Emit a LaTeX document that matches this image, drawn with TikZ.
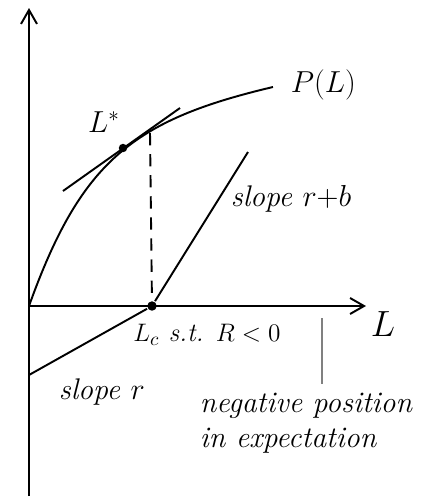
\documentclass[tikz,border=0pt]{standalone}
\usepackage{amsmath}
\usepackage{tikz}
\usetikzlibrary{arrows.meta, positioning}

\begin{document}
\begin{tikzpicture}[
      x=0.02cm, y=-0.02cm,
      line width=1.1pt,
      axis/.style={-{Straight Barb[length=2.8mm, width=3.2mm]}},
      label/.style={font=\fontsize{17}{20}\selectfont\itshape},
      dot/.style={circle, fill, inner sep=1.7pt}
    ]
      \useasboundingbox (0,0) rectangle (433,498);

      % axes
      \coordinate (origin) at (29,306);
      \coordinate (ytop) at (29,8);
      \coordinate (ybot) at (29,496);
      \coordinate (xend) at (366,306);
      \draw (ybot) -- (origin);
      \draw[axis] (origin) -- (ytop);
      \draw[axis] (origin) -- (xend);
      \node[label, font=\fontsize{22}{24}\selectfont] (xlab) at (383,324) {$L$};

      % profit curve
      \coordinate (pend) at (273,87);
      \draw (origin) .. controls (81,161) and (133,120) .. (pend);
      \node[label, anchor=west] (plab) at (284,85) {$P(L)$};

      % optimum and tangent
      \node[dot] (lstar) at (123,148) {};
      \node[label] (lstarlab) at (104,122) {$L^{*}$};
      \coordinate (tanA) at (63,191);
      \coordinate (tanB) at (180,108);
      \draw (tanA) -- (tanB);
      \coordinate (tanfoot) at (150,133);
      \node[dot, inner sep=1.9pt] (lc) at (152,306) {};
      \draw[dash pattern=on 7pt off 5pt] (tanfoot) -- (lc);

      % two slopes through L_c
      \coordinate (steep) at (248,152);
      \coordinate (yint) at (29,375);
      \draw (lc) -- (steep);
      \draw (yint) -- (lc);
      \node[label, anchor=west] (rblab) at (224,199) {slope $r{+}b$};
      \node[label, anchor=west] (rlab) at (52,392) {slope $r$};
      \node[label, font=\fontsize{15}{18}\selectfont\itshape] (lclab) at (207,335) {$L_c$ s.t. $R<0$};

      % negative position
      \coordinate (negtop) at (322,318);
      \coordinate (negbot) at (322,384);
      \draw[gray, line width=0.8pt] (negtop) -- (negbot);
      \node[label, anchor=west, align=left, inner sep=0pt] (neglab) at (199,423) {negative position\\in expectation};
    \end{tikzpicture}
\end{document}
